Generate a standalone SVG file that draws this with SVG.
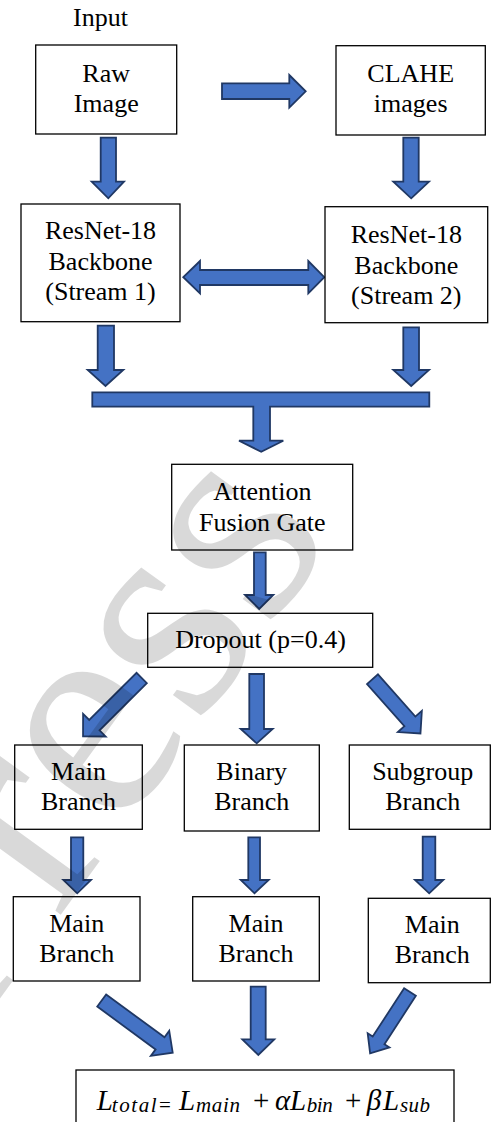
<svg xmlns="http://www.w3.org/2000/svg" width="491" height="1122" viewBox="0 0 491 1122">
<defs>
<style>
.box{fill:#fff;stroke:#000;stroke-width:1.3}
.t{font-family:'Liberation Serif','DejaVu Serif',serif;font-size:26px;fill:#000;text-anchor:middle}
.arr{fill:#4472c4;stroke:#203864;stroke-width:1.8;stroke-linejoin:miter}
.m{font-family:'Liberation Serif','DejaVu Serif',serif;font-style:italic;fill:#000}
.mu{font-family:'Liberation Serif','DejaVu Serif',serif;fill:#000}
.wm{font-family:'Liberation Serif','DejaVu Serif',serif;font-size:305px;fill:#000;fill-opacity:0.15;text-anchor:end}
</style>
</defs>
<rect width="491" height="1122" fill="#fff"/>

<g id="connectors">
<polygon class="arr" points="100.7,137.7 116,137.7 116,181.7 124,181.7 108.3,198.3 91.7,181.7 100.7,181.7"/>
<polygon class="arr" points="403.3,137.7 418.7,137.7 418.7,181.7 429,181.7 411.2,198.3 393.3,181.7 403.3,181.7"/>
<polygon class="arr" points="222,83.3 289.3,83.3 289.3,75 305.7,91.3 289.3,107.7 289.3,99 222,99"/>
<polygon class="arr" points="183.3,277.2 200,261 200,270 308.3,270 308.3,261 324.3,277.2 308.3,293.3 308.3,285 200,285 200,293.3"/>
<polygon class="arr" points="97.7,325.7 114,325.7 114,370 123.3,370 105.5,386 87.7,370 97.7,370"/>
<polygon class="arr" points="403.3,327.3 419,327.3 419,370 429,370 411.2,386 393.3,370 403.3,370"/>
<polygon class="arr" points="92.3,392.3 429.3,392.3 429.3,406.7 270,406.7 270,440.7 283.3,440.7 261.2,451.7 239,440.7 253.3,440.7 253.3,406.7 92.3,406.7"/>
<polygon class="arr" points="254,552.3 265.7,552.3 265.7,595 273.3,595 259.2,609 245,595 254,595"/>
<polygon class="arr" points="249.3,674 264,674 264,729 272.7,729 256.7,743.3 240.7,729 249.3,729"/>
<polygon class="arr" transform="translate(141.7,678) rotate(135.1)" points="0,-7.3 66.8,-7.3 66.8,-16 82.8,0 66.8,16 66.8,7.3 0,7.3"/>
<polygon class="arr" transform="translate(372.5,679.2) rotate(48.5)" points="0,-7.3 56.4,-7.3 56.4,-16 72.4,0 56.4,16 56.4,7.3 0,7.3"/>
<polygon class="arr" points="71,837.3 83.3,837.3 83.3,880 91,880 77.2,893.3 63.3,880 71,880"/>
<polygon class="arr" points="248.3,837.3 260,837.3 260,880 268.7,880 254.5,893.3 240.7,880 248.3,880"/>
<polygon class="arr" points="422.7,836.7 435.3,836.7 435.3,880 443.3,880 429.2,893.3 415,880 422.7,880"/>
<polygon class="arr" transform="translate(101.7,1000.5) rotate(36.3)" points="0,-7.5 72.4,-7.5 72.4,-15.5 88.1,0 72.4,15.5 72.4,7.5 0,7.5"/>
<polygon class="arr" points="250.7,986.7 265.7,986.7 265.7,1039.3 274.3,1039.3 258.3,1055 242.3,1039.3 250.7,1039.3"/>
<polygon class="arr" transform="translate(410,992) rotate(123)" points="0,-7 57.7,-7 57.7,-13 73.2,0 57.7,13 57.7,7 0,7"/>
</g>

<g id="input-label"><text class="t" x="100.5" y="26">Input</text></g>

<g id="raw"><rect class="box" x="35.7" y="45" width="141" height="89"/>
<text class="t" x="106.2" y="81.7">Raw</text><text class="t" x="106.2" y="111.7">Image</text></g>

<g id="clahe"><rect class="box" x="336" y="45.7" width="149.3" height="89.3"/>
<text class="t" x="410.7" y="81.7">CLAHE</text><text class="t" x="410.7" y="111.7">images</text></g>

<g id="resnet1"><rect class="box" x="21" y="204" width="159" height="117.7"/>
<text class="t" x="100.5" y="239.3">ResNet-18</text><text class="t" x="100.5" y="270">Backbone</text><text class="t" x="100.5" y="300">(Stream 1)</text></g>

<g id="resnet2"><rect class="box" x="325" y="206.7" width="162.7" height="116"/>
<text class="t" x="406.3" y="243.3">ResNet-18</text><text class="t" x="406.3" y="274">Backbone</text><text class="t" x="406.3" y="304">(Stream 2)</text></g>

<g id="attention"><rect class="box" x="171.7" y="464.3" width="181" height="85.7"/>
<text class="t" x="262.3" y="500">Attention</text><text class="t" x="262.3" y="530.7">Fusion Gate</text></g>

<g id="dropout"><rect class="box" x="147.7" y="613.3" width="225" height="54"/>
<text class="t" x="260.5" y="648.3">Dropout (p=0.4)</text></g>

<g id="main-branch"><rect class="box" x="14.7" y="745" width="127.6" height="84.3"/>
<text class="t" x="78.5" y="780">Main</text><text class="t" x="78.5" y="810">Branch</text></g>

<g id="binary-branch"><rect class="box" x="184.3" y="745" width="135" height="86"/>
<text class="t" x="251.7" y="780">Binary</text><text class="t" x="251.7" y="810">Branch</text></g>

<g id="subgroup-branch"><rect class="box" x="349.3" y="745" width="141" height="84.3"/>
<text class="t" x="422.7" y="780">Subgroup</text><text class="t" x="422.7" y="810">Branch</text></g>

<g id="out-main"><rect class="box" x="13.3" y="896.7" width="126.7" height="84.3"/>
<text class="t" x="76.7" y="931.7">Main</text><text class="t" x="76.7" y="961.7">Branch</text></g>

<g id="out-binary"><rect class="box" x="192.7" y="896.7" width="126.6" height="84.3"/>
<text class="t" x="256" y="931.7">Main</text><text class="t" x="256" y="961.7">Branch</text></g>

<g id="out-subgroup"><rect class="box" x="368.3" y="898.3" width="122" height="84.4"/>
<text class="t" x="432.3" y="933.3">Main</text><text class="t" x="432.3" y="963.3">Branch</text></g>

<g id="loss"><rect class="box" x="76" y="1070" width="378" height="70"/>
<text class="m" font-size="29" x="96.7" y="1110">L</text>
<text class="m" font-size="21" x="111.7" y="1112" textLength="45" lengthAdjust="spacing">total</text>
<text class="mu" font-size="21" x="159" y="1112">=</text>
<text class="m" font-size="29" x="179" y="1110">L</text>
<text class="m" font-size="21" x="196" y="1112" textLength="44" lengthAdjust="spacing">main</text>
<text class="mu" font-size="29" x="253" y="1110">+</text>
<text class="m" font-size="29" x="275" y="1110">α</text>
<text class="m" font-size="29" x="290" y="1110">L</text>
<text class="m" font-size="21" x="306.7" y="1112" textLength="26" lengthAdjust="spacing">bin</text>
<text class="mu" font-size="29" x="345" y="1110">+</text>
<text class="m" font-size="29" x="366.7" y="1110">β</text>
<text class="m" font-size="29" x="383" y="1110">L</text>
<text class="m" font-size="21" x="400" y="1112" textLength="30" lengthAdjust="spacing">sub</text>
</g>

<text class="wm" x="336" y="536" transform="rotate(-54 336 536)">Press</text>
</svg>
